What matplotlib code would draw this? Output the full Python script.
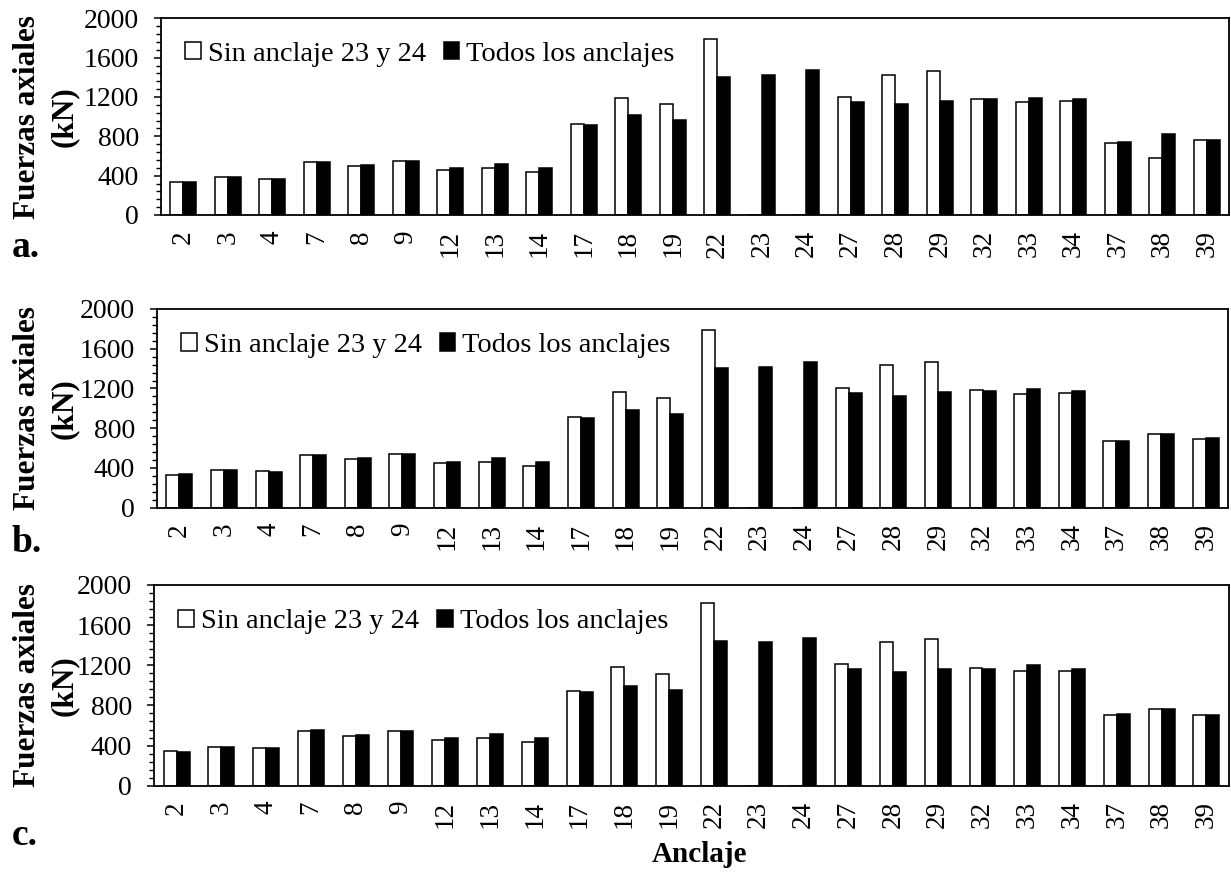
import numpy as np
import matplotlib
matplotlib.use("Agg")
import matplotlib.pyplot as plt
from matplotlib.ticker import MultipleLocator

plt.rcParams['font.family'] = ['Liberation Serif', 'DejaVu Serif']

# Anchor labels along the slope
anclajes = ['2', '3', '4', '7', '8', '9', '12', '13', '14', '17', '18', '19',
            '22', '23', '24', '27', '28', '29', '32', '33', '34', '37', '38', '39']

# Axial forces (kN) - case a
a_sin = [339, 383, 370, 536, 495, 546, 454, 481, 434, 929, 1187, 1125,
         1787, 0, 0, 1197, 1424, 1464, 1176, 1153, 1159, 732, 580, 759]
a_todos = [332, 386, 366, 539, 508, 549, 475, 519, 475, 915, 1014, 970,
           1407, 1420, 1478, 1146, 1129, 1163, 1176, 1193, 1180, 739, 820, 759]

# Axial forces (kN) - case b
b_sin = [329, 379, 366, 530, 487, 537, 446, 463, 423, 916, 1168, 1104,
         1789, 0, 0, 1205, 1433, 1470, 1181, 1148, 1158, 671, 742, 695]
b_todos = [336, 383, 359, 534, 500, 540, 456, 500, 456, 903, 983, 946,
           1403, 1420, 1470, 1151, 1124, 1165, 1171, 1191, 1178, 675, 745, 698]

# Axial forces (kN) - case c
c_sin = [342, 382, 375, 548, 495, 545, 458, 478, 438, 947, 1179, 1110,
         1820, 0, 0, 1216, 1432, 1465, 1173, 1146, 1139, 708, 764, 701]
c_todos = [336, 385, 375, 555, 505, 545, 472, 518, 472, 933, 997, 953,
           1442, 1428, 1468, 1166, 1130, 1159, 1159, 1199, 1166, 711, 767, 704]

serie_sin = 'Sin anclaje 23 y 24'
serie_todos = 'Todos los anclajes'

W, H = 1231, 873
fig = plt.figure(figsize=(W / 100, H / 100), dpi=100)

# panel boxes in pixels: left, right, top, bottom
boxes = [(161, 1229, 18.3, 215.0),
         (157, 1228, 309.0, 507.7),
         (154.3, 1228.7, 585.0, 785.7)]
datos = [(a_sin, a_todos), (b_sin, b_todos), (c_sin, c_todos)]
letras = ['a.', 'b.', 'c.']
letra_base = [257, 552, 845]

x = np.arange(len(anclajes))
bw = 0.29

for (l, r, t, b), (s1, s2), letra, yb in zip(boxes, datos, letras, letra_base):
    ax = fig.add_axes([l / W, 1 - b / H, (r - l) / W, (b - t) / H])
    ax.bar(x - bw / 2, s1, bw, color='white', edgecolor='black', linewidth=1.1,
           label=serie_sin)
    ax.bar(x + bw / 2, s2, bw, color='black', edgecolor='black', linewidth=1.1,
           label=serie_todos)
    ax.set_xlim(-0.5, len(anclajes) - 0.5)
    ax.set_ylim(0, 2000)
    ax.yaxis.set_major_locator(MultipleLocator(400))
    ax.yaxis.set_minor_locator(MultipleLocator(80))
    ax.set_xticks(x)
    ax.set_xticklabels(anclajes, rotation=90, fontsize=19.5)
    ax.tick_params(axis='x', length=0, pad=11)
    ax.tick_params(axis='y', which='major', length=5, width=1.1, labelsize=20, pad=11)
    ax.tick_params(axis='y', which='minor', length=3.5, width=1.0)
    for sp in ax.spines.values():
        sp.set_linewidth(1.3)
    ax.legend(loc='center left', bbox_to_anchor=(0.0225, 0.816), ncol=2,
              frameon=False, fontsize=20.5, handlelength=0.55,
              handleheight=0.55, handletextpad=0.25, columnspacing=0.62,
              borderaxespad=0, borderpad=0)
    ycen = 1 - ((t + b) / 2) / H
    fig.text(46 / W, ycen, 'Fuerzas axiales\n(kN)', rotation=90, ha='center',
             va='center', multialignment='center', fontsize=22.5,
             fontweight='bold', linespacing=1.33)
    fig.text(12 / W, 1 - yb / H, letra, ha='left', va='baseline', fontsize=27,
             fontweight='bold')

fig.text(700 / W, 1 - 862 / H, 'Anclaje', ha='center', va='baseline',
         fontsize=21, fontweight='bold')

fig.savefig('out.png', dpi=100)
